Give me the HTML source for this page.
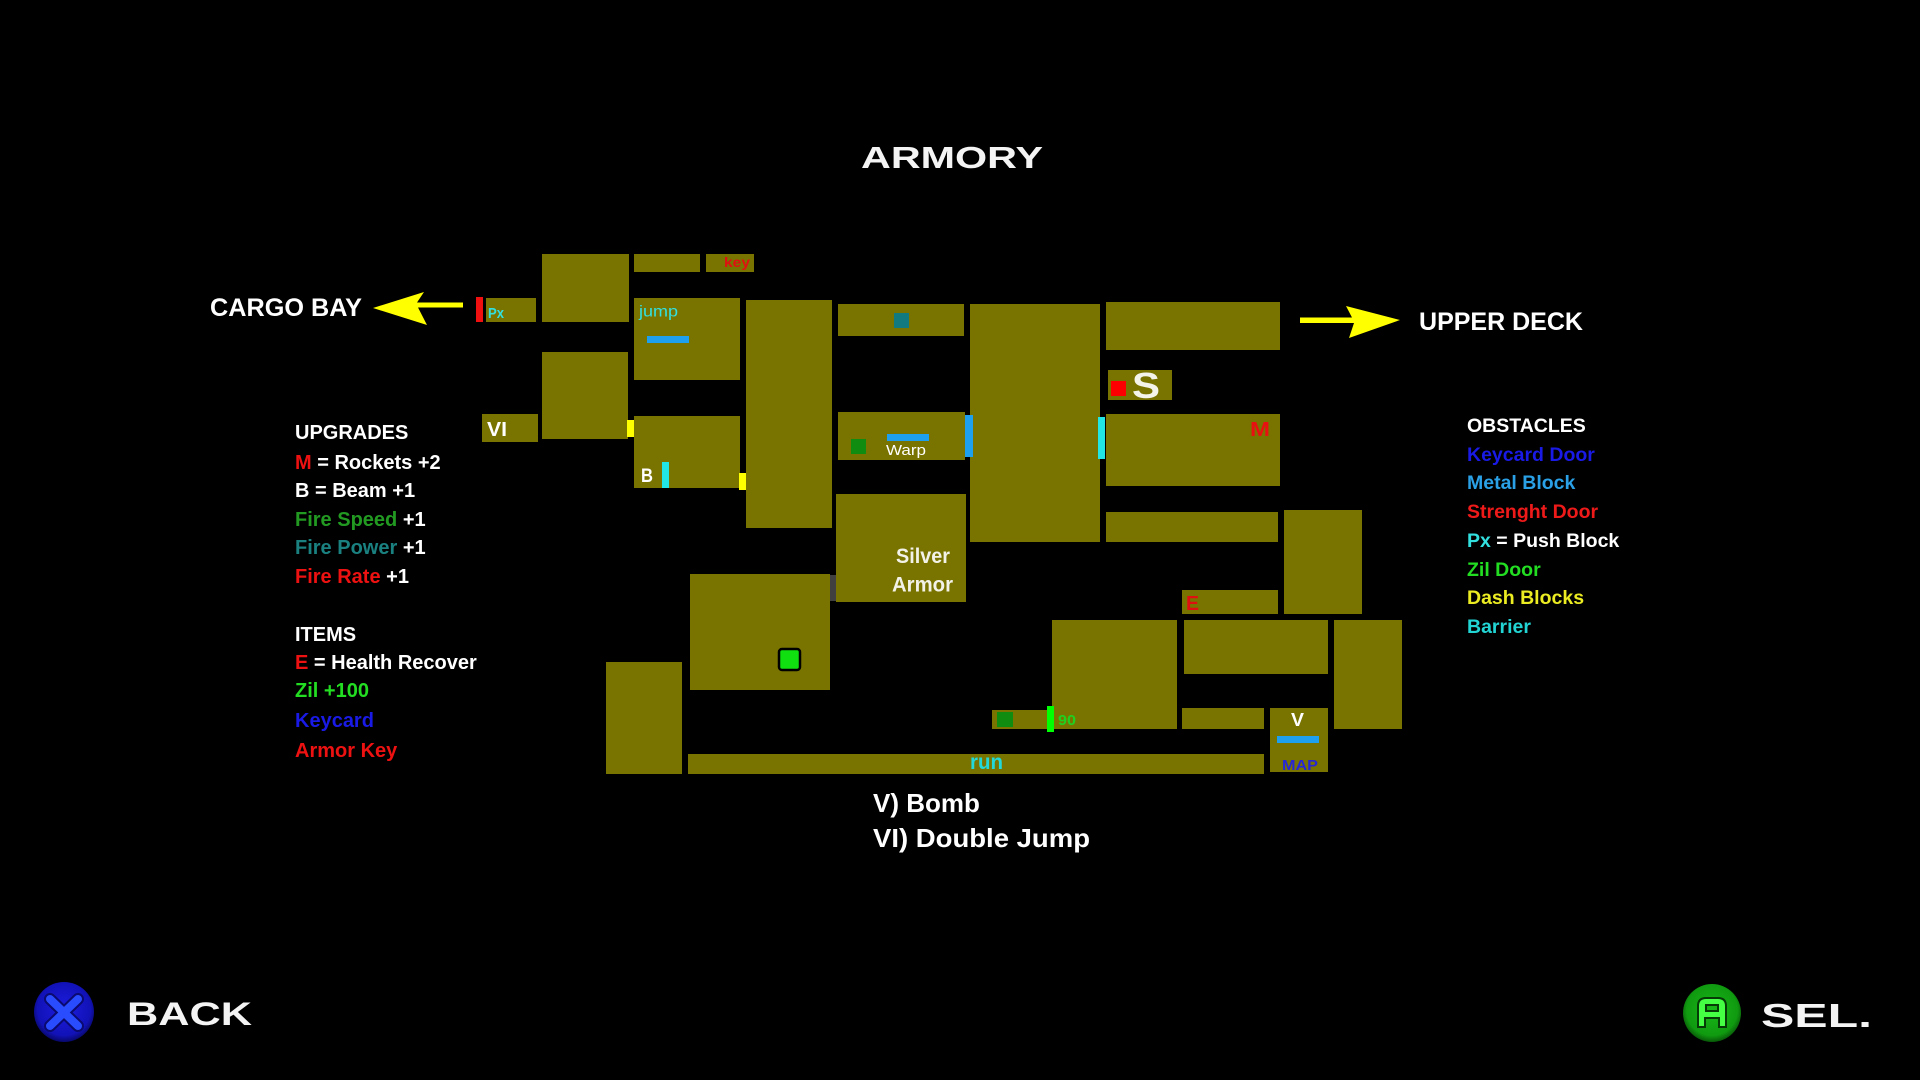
<!DOCTYPE html>
<html>
<head>
<meta charset="utf-8">
<style>
html,body{margin:0;padding:0;background:#000;width:1920px;height:1080px;overflow:hidden;}
svg{display:block;}
text{font-family:"Liberation Sans",sans-serif;}
</style>
</head>
<body>
<svg width="1920" height="1080" viewBox="0 0 1920 1080" xmlns="http://www.w3.org/2000/svg">
<rect x="0" y="0" width="1920" height="1080" fill="#000"/>

<!-- Title -->
<text x="861" y="168" font-size="31" font-weight="bold" fill="#f4f4f4" textLength="182" lengthAdjust="spacingAndGlyphs">ARMORY</text>

<!-- Rooms -->
<g fill="#797400">
  <rect x="486" y="298" width="50" height="24"/>
  <rect x="542" y="254" width="87" height="68"/>
  <rect x="634" y="254" width="66" height="18"/>
  <rect x="706" y="254" width="48" height="18"/>
  <rect x="634" y="298" width="106" height="82"/>
  <rect x="542" y="352" width="86" height="87"/>
  <rect x="482" y="414" width="56" height="28"/>
  <rect x="634" y="416" width="106" height="72"/>
  <rect x="746" y="300" width="86" height="228"/>
  <rect x="838" y="304" width="126" height="32"/>
  <rect x="838" y="412" width="127" height="48"/>
  <rect x="836" y="494" width="130" height="108"/>
  <rect x="970" y="304" width="130" height="238"/>
  <rect x="1106" y="302" width="174" height="48"/>
  <rect x="1108" y="370" width="64" height="30"/>
  <rect x="1106" y="414" width="174" height="72"/>
  <rect x="1106" y="512" width="172" height="30"/>
  <rect x="1284" y="510" width="78" height="104"/>
  <rect x="1182" y="590" width="96" height="24"/>
  <rect x="690" y="574" width="140" height="116"/>
  <rect x="606" y="662" width="76" height="112"/>
  <rect x="688" y="754" width="576" height="20"/>
  <rect x="1052" y="620" width="125" height="109"/>
  <rect x="992" y="710" width="60" height="19"/>
  <rect x="1184" y="620" width="144" height="54"/>
  <rect x="1334" y="620" width="68" height="109"/>
  <rect x="1182" y="708" width="82" height="21"/>
  <rect x="1270" y="708" width="58" height="64"/>
</g>

<!-- Obstacles / markers -->
<rect x="476" y="297" width="7" height="25" fill="#f01010"/>
<rect x="627" y="420" width="7" height="17" fill="#ffff00"/>
<rect x="739" y="473" width="7" height="17" fill="#ffff00"/>
<rect x="662" y="462" width="7" height="26" fill="#22e6e6"/>
<rect x="647" y="336" width="42" height="7" fill="#1ea0ee"/>
<rect x="894" y="313" width="15" height="15" fill="#107a80"/>
<rect x="851" y="439" width="15" height="15" fill="#108c10"/>
<rect x="887" y="434" width="42" height="7" fill="#1ea0ee"/>
<rect x="965" y="415" width="8" height="42" fill="#1ea0ee"/>
<rect x="1098" y="417" width="7" height="42" fill="#22e6e6"/>
<rect x="830" y="575" width="6" height="26" fill="#404040"/>
<rect x="1111" y="381" width="15" height="15" fill="#ff0000"/>
<rect x="779" y="649" width="21" height="21" rx="3" fill="#10e010" stroke="#000" stroke-width="2.5"/>
<rect x="997" y="712" width="16" height="15" fill="#108c10"/>
<rect x="1047" y="706" width="7" height="26" fill="#00ff00"/>
<rect x="1277" y="736" width="42" height="7" fill="#1ea0ee"/>

<!-- Room labels -->
<text x="488" y="318" font-size="15" font-weight="bold" fill="#33e0e0" textLength="16" lengthAdjust="spacingAndGlyphs">Px</text>
<text x="724" y="267" font-size="14" font-weight="bold" fill="#e01010" textLength="26" lengthAdjust="spacingAndGlyphs">key</text>
<text x="639" y="316.5" font-size="16" fill="#33e0e0" textLength="39" lengthAdjust="spacingAndGlyphs">jump</text>
<text x="487" y="436" font-size="20" font-weight="bold" fill="#ffffff" textLength="20" lengthAdjust="spacingAndGlyphs">VI</text>
<text x="641" y="482" font-size="19" font-weight="bold" fill="#ffffff" textLength="12" lengthAdjust="spacingAndGlyphs">B</text>
<text x="886" y="455" font-size="15" fill="#ffffff" textLength="40" lengthAdjust="spacingAndGlyphs">Warp</text>
<text x="1132" y="398" font-size="36" font-weight="bold" fill="#f4f4ea" textLength="28" lengthAdjust="spacingAndGlyphs">S</text>
<text x="1250" y="436" font-size="20" font-weight="bold" fill="#e81010" textLength="20" lengthAdjust="spacingAndGlyphs">M</text>
<text x="896" y="563" font-size="21" font-weight="bold" fill="#f2f2e8" textLength="54" lengthAdjust="spacingAndGlyphs">Silver</text>
<text x="892" y="591.5" font-size="21" font-weight="bold" fill="#f2f2e8" textLength="61" lengthAdjust="spacingAndGlyphs">Armor</text>
<text x="1186" y="610" font-size="20" font-weight="bold" fill="#e01010" textLength="13" lengthAdjust="spacingAndGlyphs">E</text>
<text x="1058" y="725" font-size="15" font-weight="bold" fill="#20d020" textLength="18" lengthAdjust="spacingAndGlyphs">90</text>
<text x="970" y="769" font-size="21" font-weight="bold" fill="#22d8d8" textLength="33" lengthAdjust="spacingAndGlyphs">run</text>
<text x="1291" y="726" font-size="18" font-weight="bold" fill="#ffffff" textLength="13" lengthAdjust="spacingAndGlyphs">V</text>
<text x="1282" y="770" font-size="15" font-weight="bold" fill="#2626d8" textLength="36" lengthAdjust="spacingAndGlyphs">MAP</text>

<!-- Cargo Bay arrow -->
<text x="210" y="316" font-size="25" font-weight="bold" fill="#ffffff" textLength="152" lengthAdjust="spacingAndGlyphs">CARGO BAY</text>
<polygon points="373,308 424,292 417,302.5 463,302.5 463,307.5 418,307.5 427,325" fill="#ffff00"/>

<!-- Upper Deck arrow -->
<polygon points="1300,317.5 1352,317.5 1346,306 1400,320 1349,338 1354,323 1300,323" fill="#ffff00"/>
<text x="1419" y="330" font-size="25" font-weight="bold" fill="#ffffff" textLength="164" lengthAdjust="spacingAndGlyphs">UPPER DECK</text>

<!-- Upgrades / items legend -->
<g font-size="20" font-weight="bold" fill="#ffffff">
  <text x="295" y="439">UPGRADES</text>
  <text x="295" y="469"><tspan fill="#ee1111">M</tspan> = Rockets +2</text>
  <text x="295" y="497">B = Beam +1</text>
  <text x="295" y="526"><tspan fill="#229a22">Fire Speed</tspan> +1</text>
  <text x="295" y="554"><tspan fill="#1a8080">Fire Power</tspan> +1</text>
  <text x="295" y="583"><tspan fill="#ee1111">Fire Rate</tspan> +1</text>
  <text x="295" y="641">ITEMS</text>
  <text x="295" y="669"><tspan fill="#ee1111">E</tspan> = Health Recover</text>
  <text x="295" y="697" fill="#22dd22">Zil +100</text>
  <text x="295" y="727" fill="#1a1ae6">Keycard</text>
  <text x="295" y="757" fill="#ee1111">Armor Key</text>
</g>

<!-- Obstacles legend -->
<g font-size="19.5" font-weight="bold" fill="#ffffff">
  <text x="1467" y="432">OBSTACLES</text>
  <text x="1467" y="461" fill="#1a1ae6">Keycard Door</text>
  <text x="1467" y="489" fill="#2aa0e6">Metal Block</text>
  <text x="1467" y="518" fill="#ee1a1a">Strenght Door</text>
  <text x="1467" y="547"><tspan fill="#33e0e0">Px</tspan> = Push Block</text>
  <text x="1467" y="576" fill="#22dd22">Zil Door</text>
  <text x="1467" y="604" fill="#ecec22">Dash Blocks</text>
  <text x="1467" y="633" fill="#22d4d4">Barrier</text>
</g>

<!-- Abilities -->
<text x="873" y="812" font-size="26" font-weight="bold" fill="#ffffff">V) Bomb</text>
<text x="873" y="847" font-size="26" font-weight="bold" fill="#ffffff" textLength="217" lengthAdjust="spacingAndGlyphs">VI) Double Jump</text>

<!-- Back button -->
<defs>
  <radialGradient id="bg1" cx="50%" cy="45%" r="55%">
    <stop offset="0%" stop-color="#1c1ce0"/>
    <stop offset="80%" stop-color="#1212b8"/>
    <stop offset="100%" stop-color="#08086a"/>
  </radialGradient>
  <radialGradient id="bg2" cx="50%" cy="45%" r="55%">
    <stop offset="0%" stop-color="#18b818"/>
    <stop offset="80%" stop-color="#109a10"/>
    <stop offset="100%" stop-color="#085808"/>
  </radialGradient>
</defs>
<circle cx="64" cy="1012" r="30" fill="url(#bg1)"/>
<path d="M50,999 L78,1026 M78,999 L50,1026" stroke="#0a0a70" stroke-width="12" stroke-linecap="round"/>
<path d="M50,999 L78,1026 M78,999 L50,1026" stroke="#2a4cff" stroke-width="8" stroke-linecap="round"/>
<text x="127" y="1025" font-size="32" font-weight="bold" fill="#f4f4f4" textLength="125" lengthAdjust="spacingAndGlyphs">BACK</text>

<!-- Select button -->
<circle cx="1712" cy="1013" r="29" fill="url(#bg2)"/>
<path d="M1698,1027 V1006 Q1698,998 1706,998 H1718 Q1726,998 1726,1006 V1027 H1719 V1018 H1705 V1027 Z M1706,1005 H1718 V1011 H1706 Z" fill="#44ff44" fill-rule="evenodd" stroke="#063a06" stroke-width="2"/>
<text x="1761" y="1027" font-size="33" font-weight="bold" fill="#f4f4f4" textLength="111" lengthAdjust="spacingAndGlyphs">SEL.</text>
</svg>
</body>
</html>
